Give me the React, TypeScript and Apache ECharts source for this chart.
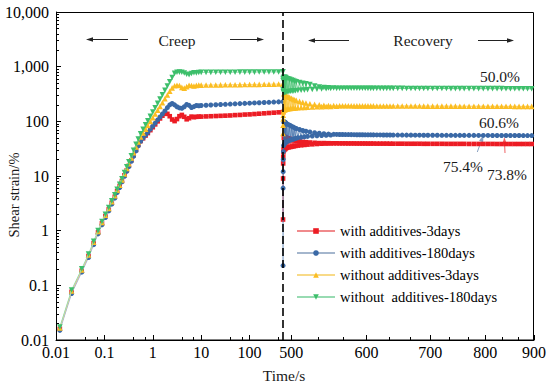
import React, { useEffect, useRef } from 'react';
import * as echarts from 'echarts';

const seriesNames = [
  'with additives-3days',
  'with additives-180days',
  'without additives-3days',
  'without  additives-180days',
];

// creep phase (log time axis, 0.01 .. 490 s)
const creepTime = [
  0.012, 0.021, 0.034, 0.047, 0.06, 0.074, 0.089, 0.105, 0.123, 0.142, 0.164, 0.183, 0.207,
  0.23, 0.26, 0.29, 0.32, 0.36, 0.4, 0.45, 0.5,
  0.56, 0.63, 0.71, 0.79, 0.89, 1.0, 1.12, 1.26, 1.41, 1.58,
  1.78, 2.0, 2.24, 2.51, 2.82, 3.16, 3.55, 3.98, 4.47, 5.01,
  5.62, 6.31, 7.08, 7.94, 8.91, 10,
  12.6, 15.8, 20, 25.1, 31.6, 39.8, 50.1, 63.1, 79.4, 100,
  126, 158, 200, 251, 316, 398, 490,
];

const creepRed = [
  0.016, 0.076, 0.185, 0.344, 0.59, 0.93, 1.36, 1.85, 2.45, 3.24, 4.18, 5.3, 6.56,
  8.1, 10.3, 12.7, 15.4, 19.4, 23.9, 30, 37,
  43.5, 49, 55, 61, 69, 78, 88, 100, 113, 127,
  138, 137, 124, 108, 101, 110, 124, 131, 121, 109,
  114, 122, 119, 121, 122, 122,
  123, 124, 125, 126, 127, 128, 130, 131, 133, 134,
  136, 138, 140, 142, 144, 146, 148,
];
const creepBlue = [
  0.015, 0.071, 0.174, 0.323, 0.555, 0.874, 1.28, 1.74, 2.3, 3.05, 3.93, 4.98, 6.17,
  7.8, 9.9, 12.2, 14.8, 18.6, 23, 28.8, 35.5,
  43, 49.5, 56, 63, 72, 82, 93, 106, 120, 136,
  155, 178, 200, 212, 200, 185, 176, 173, 185, 204,
  196, 179, 186, 195, 193, 195,
  197, 199, 201, 203, 205, 207, 209, 211, 213, 215,
  217, 219, 221, 223, 225, 227, 229,
];
const creepYellow = [
  0.0166, 0.079, 0.192, 0.358, 0.614, 0.967, 1.41, 1.92, 2.55, 3.37, 4.35, 5.51, 6.82,
  8.5, 10.9, 13.7, 16.8, 21.4, 26.6, 33.9, 42,
  51.8, 61, 72, 84, 99, 116, 136, 160, 187, 219,
  259, 304, 355, 410, 448, 458, 452, 418, 405, 432,
  458, 452, 444, 455, 460, 460,
  461, 462, 463, 464, 466, 467, 468, 470, 471, 472,
  474, 475, 476, 478, 479, 481, 482,
];
const creepGreen = [
  0.0173, 0.082, 0.2, 0.372, 0.637, 1.0, 1.47, 2.0, 2.65, 3.5, 4.51, 5.72, 7.08,
  8.9, 11.6, 14.7, 18.2, 23.4, 29.5, 38, 47.6,
  59, 71.5, 86, 102, 123, 148, 177, 213, 255, 305,
  368, 443, 531, 635, 755, 790, 795, 788, 765, 728,
  712, 748, 776, 770, 780, 785,
  786, 787, 788, 789, 790, 791, 792, 793, 794, 795,
  796, 797, 798, 799, 800, 801, 802,
];

// recovery phase (expanded log time axis, 490 .. 900 s)
const recoveryTime = [
  490.05, 490.1, 490.2, 490.3, 490.5, 490.7,
  491, 491.5, 492, 492.5, 493, 493.5, 494,
  495, 496, 497, 498, 499, 500, 501, 502, 503, 504, 505, 506,
  508, 510, 512, 514, 516, 518, 520,
  523, 526, 529, 532, 535, 538, 541, 544, 547, 550,
  554, 558, 562, 566, 570, 574, 578, 582, 586, 590,
  594, 598, 602, 606, 610, 615, 620, 625, 630, 635,
  640, 647, 654, 661, 668, 675, 682, 689, 696, 704,
  712, 720, 728, 736, 744, 752, 760, 769, 778, 787,
  796, 805, 814, 823, 832, 841, 850, 859, 868, 877,
  886, 895,
];

const recoveryRed = [
  1.6, 9, 17, 22, 27, 31,
  50, 30, 52, 31, 51, 32, 50,
  33, 49, 33.5, 48, 34, 47, 34.5, 46, 35, 45, 35.5, 44,
  36, 43, 36.5, 42, 37, 41.5, 37.5,
  41, 38, 40.5, 38.5, 40, 39, 40, 39.3, 39.8, 39.5,
  39.6, 39.6, 39.5, 39.5, 39.5, 39.4, 39.4, 39.4, 39.3, 39.3,
  39.3, 39.3, 39.2, 39.2, 39.2, 39.1, 39.1, 39.1, 39.1, 39.0,
  39.0, 39.0, 39.0, 38.9, 38.9, 38.9, 38.9, 38.8, 38.8, 38.8,
  38.8, 38.8, 38.7, 38.7, 38.7, 38.7, 38.7, 38.6, 38.6, 38.6,
  38.6, 38.6, 38.6, 38.5, 38.5, 38.5, 38.5, 38.5, 38.5, 38.5,
  38.5, 38.5,
];
const recoveryBlue = [
  0.23, 6, 12, 20, 28, 36,
  95, 38, 98, 40, 96, 41, 92,
  43, 88, 44, 85, 45.5, 82, 46.5, 79, 47.5, 76, 48.5, 74,
  50, 71, 51, 68, 52, 66, 53,
  64, 54, 62, 54.5, 60.5, 55, 59.5, 55.5, 58.5, 56,
  57.8, 57.6, 57.5, 57.4, 57.3, 57.2, 57.1, 57.0, 56.9, 56.8,
  56.8, 56.7, 56.6, 56.6, 56.5, 56.4, 56.4, 56.3, 56.2, 56.2,
  56.1, 56.0, 56.0, 55.9, 55.9, 55.8, 55.8, 55.7, 55.7, 55.6,
  55.6, 55.5, 55.5, 55.5, 55.4, 55.4, 55.3, 55.3, 55.3, 55.2,
  55.2, 55.2, 55.1, 55.1, 55.1, 55.0, 55.0, 55.0, 55.0, 54.9,
  54.9, 54.9,
];
const recoveryYellow = [
  60, 85, 110, 130, 150, 165,
  320, 162, 315, 164, 305, 166, 295,
  168, 285, 170, 275, 172, 265, 173, 256, 174, 248, 175, 242,
  177, 232, 179, 224, 180, 217, 182,
  210, 184, 204, 185, 200, 186, 197, 187, 195, 188,
  194, 190, 193, 192.5, 192.4, 192.3, 192.2, 192.1, 192, 191.9,
  191.8, 191.7, 191.6, 191.5, 191.4, 191.3, 191.2, 191.1, 191, 190.9,
  190.8, 190.7, 190.6, 190.5, 190.4, 190.3, 190.2, 190.1, 190, 189.9,
  189.8, 189.7, 189.6, 189.5, 189.4, 189.3, 189.2, 189.1, 189, 188.9,
  188.8, 188.7, 188.6, 188.5, 188.4, 188.3, 188.2, 188.1, 188, 187.9,
  187.8, 187.7,
];
const recoveryGreen = [
  560, 380, 600, 350, 620, 340,
  640, 335, 640, 338, 630, 342, 615,
  346, 600, 350, 585, 354, 570, 357, 555, 360, 540, 363, 528,
  367, 510, 371, 497, 375, 485, 378,
  470, 382, 440, 388, 425, 392, 415, 395, 410, 398,
  406, 401, 404, 403, 403, 403, 403, 402, 402, 402,
  402, 402, 401, 401, 401, 401, 401, 400, 400, 400,
  400, 400, 400, 399, 399, 399, 399, 399, 398, 398,
  398, 398, 398, 397, 397, 397, 397, 397, 397, 396,
  396, 396, 396, 396, 396, 395, 395, 395, 395, 395,
  395, 395,
];

const creepValues = [creepRed, creepBlue, creepYellow, creepGreen];
const recoveryValues = [recoveryRed, recoveryBlue, recoveryYellow, recoveryGreen];

// axis ticks / labels
const yTicks = [0.01, 0.1, 1, 10, 100, 1000, 10000];
const yTickLabels = ['0.01', '0.1', '1', '10', '100', '1,000', '10,000'];
const yMinorTicks: number[] = [];
[0.01, 0.1, 1, 10, 100, 1000].forEach((d) => {
  for (let k = 2; k <= 9; k++) yMinorTicks.push(+(d * k).toPrecision(6));
});
const xLeftTicks = [0.01, 0.1, 1, 10, 100];
const xLeftLabels = ['0.01', '0.1', '1', '10', '100'];
const xLeftMinor = [0.04, 0.07, 0.4, 0.7, 4, 7, 40, 70, 400];
const xRightTicks = [500, 600, 700, 800, 900];
const xRightLabels = ['500', '600', '700', '800', '900'];
const xRightMinor = [533.3, 566.7, 633.3, 666.7, 733.3, 766.7, 833.3, 866.7];

const serif = 'Liberation Serif';

const looks = [
  { symbol: 'rect', size: 4.6, color: '#ec1c24', line: '#f08a8c', rotate: 0 },
  { symbol: 'circle', size: 5, color: '#3a69a6', line: '#a4b6cd', rotate: 0 },
  { symbol: 'triangle', size: 5.6, color: '#fbbd22', line: '#f8da88', rotate: 0 },
  { symbol: 'triangle', size: 5.6, color: '#3dbf6b', line: '#98dbb2', rotate: 180 },
];

const lookup = (ticks: number[], labels: string[]) => (v: number) => {
  const i = ticks.findIndex((t) => Math.abs(t - v) / t < 1e-6);
  return i >= 0 ? labels[i] : '';
};

const labelStyle = { color: '#000', fontFamily: serif, fontSize: 16, lineHeight: 12 };

function buildOption(): any {
  const series: any[] = [];
  looks.forEach((lk, i) => {
    series.push({
      type: 'line',
      name: seriesNames[i],
      xAxisIndex: 0,
      yAxisIndex: 0,
      data: creepTime.map((t, k) => [t, creepValues[i][k]]),
      symbol: lk.symbol,
      symbolSize: lk.size,
      symbolRotate: lk.rotate,
      itemStyle: { color: lk.color },
      lineStyle: { color: lk.line, width: 1 },
      emphasis: { disabled: true },
      z: 2 + i,
      ...(i === 0
        ? {
            markLine: {
              silent: true,
              symbol: ['none', 'none'],
              label: { show: false },
              lineStyle: { color: '#000', type: [8, 4], width: 1.6 },
              data: [{ xAxis: 490 }],
              z: 20,
            },
          }
        : {}),
    });
  });
  looks.forEach((lk, i) => {
    series.push({
      type: 'line',
      name: seriesNames[i],
      xAxisIndex: 2,
      yAxisIndex: 2,
      data: recoveryTime.map((t, k) => [t, recoveryValues[i][k]]),
      symbol: lk.symbol,
      symbolSize: lk.size,
      symbolRotate: lk.rotate,
      itemStyle: { color: lk.color },
      lineStyle: { color: lk.color, width: 1, opacity: 0.75 },
      emphasis: { disabled: true },
      z: 2 + i,
    });
  });

  const arrow = (x1: number, y1: number, x2: number, y2: number, color: string) => {
    const dx = x2 - x1;
    const dy = y2 - y1;
    const len = Math.hypot(dx, dy);
    const ux = dx / len;
    const uy = dy / len;
    const hl = 7;
    const hw = 2.2;
    const bx = x2 - ux * hl;
    const by = y2 - uy * hl;
    return [
      { type: 'line', shape: { x1, y1, x2: bx, y2: by }, style: { stroke: color, lineWidth: 1 } },
      {
        type: 'polygon',
        shape: {
          points: [
            [x2, y2],
            [bx - uy * hw, by + ux * hw],
            [bx + uy * hw, by - ux * hw],
          ],
        },
        style: { fill: color },
      },
    ];
  };

  const text = (t: string, x: number, y: number, size = 15.5, extra: any = {}) => ({
    type: 'text',
    x,
    y,
    ...extra,
    style: {
      text: t,
      fill: '#1a1a1a',
      fontFamily: serif,
      fontSize: size,
      align: 'center',
      verticalAlign: 'middle',
    },
  });

  return {
    animation: false,
    backgroundColor: '#fff',
    grid: [
      { left: 56, top: 12, width: 227, height: 328 },
      { left: 283, top: 12, width: 251, height: 328 },
    ],
    xAxis: [
      {
        gridIndex: 0,
        type: 'log',
        min: 0.01,
        max: 490,
        position: 'bottom',
        axisLine: { show: true, lineStyle: { color: '#000', width: 1 } },
        axisTick: { show: true, inside: true, length: 5, lineStyle: { color: '#000' }, customValues: xLeftTicks },
        axisLabel: { ...labelStyle, margin: 6, customValues: xLeftTicks, formatter: lookup(xLeftTicks, xLeftLabels) },
        splitLine: { show: false },
      },
      {
        gridIndex: 0,
        type: 'log',
        min: 0.01,
        max: 490,
        position: 'bottom',
        axisLine: { show: false },
        axisTick: { show: true, inside: true, length: 3, lineStyle: { color: '#000' }, customValues: xLeftMinor },
        axisLabel: { show: false },
        splitLine: { show: false },
      },
      {
        gridIndex: 1,
        type: 'log',
        min: 490,
        max: 900,
        position: 'bottom',
        axisLine: { show: true, lineStyle: { color: '#000', width: 1 } },
        axisTick: { show: true, inside: true, length: 5, lineStyle: { color: '#000' }, customValues: xRightTicks },
        axisLabel: { ...labelStyle, margin: 6, customValues: xRightTicks, formatter: lookup(xRightTicks, xRightLabels) },
        splitLine: { show: false },
      },
      {
        gridIndex: 1,
        type: 'log',
        min: 490,
        max: 900,
        position: 'bottom',
        axisLine: { show: false },
        axisTick: { show: true, inside: true, length: 3, lineStyle: { color: '#000' }, customValues: xRightMinor },
        axisLabel: { show: false },
        splitLine: { show: false },
      },
    ],
    yAxis: [
      {
        gridIndex: 0,
        type: 'log',
        min: 0.01,
        max: 10000,
        position: 'left',
        axisLine: { show: true, lineStyle: { color: '#000', width: 1 } },
        axisTick: { show: true, inside: true, length: 5, lineStyle: { color: '#000' }, customValues: yTicks },
        axisLabel: { ...labelStyle, margin: 7, customValues: yTicks, formatter: lookup(yTicks, yTickLabels) },
        splitLine: { show: false },
      },
      {
        gridIndex: 0,
        type: 'log',
        min: 0.01,
        max: 10000,
        position: 'left',
        axisLine: { show: false },
        axisTick: { show: true, inside: true, length: 3, lineStyle: { color: '#000' }, customValues: yMinorTicks },
        axisLabel: { show: false },
        splitLine: { show: false },
      },
      {
        gridIndex: 1,
        type: 'log',
        min: 0.01,
        max: 10000,
        show: false,
      },
    ],
    legend: {
      orient: 'vertical',
      left: 296,
      top: 223.5,
      padding: 0,
      itemWidth: 38,
      itemHeight: 7,
      itemGap: 7,
      textStyle: { color: '#000', fontFamily: serif, fontSize: 14.5 },
      data: seriesNames,
    },
    graphic: [
      {
        type: 'rect',
        shape: { x: 56.5, y: 12.5, width: 477, height: 327.5 },
        style: { fill: 'none', stroke: '#000', lineWidth: 1 },
        silent: true,
      },
      text('Creep', 177, 40),
      text('Recovery', 423, 40),
      ...arrow(128, 39.5, 86, 39.5, '#222'),
      ...arrow(230, 39.5, 264, 39.5, '#222'),
      ...arrow(349, 40.5, 308, 40.5, '#222'),
      ...arrow(478, 40.5, 514, 40.5, '#222'),
      text('50.0%', 500, 76),
      text('60.6%', 499, 122),
      text('75.4%', 463, 166),
      text('73.8%', 507, 174),
      ...arrow(477.3, 152, 483.5, 135, '#8aa2c2'),
      ...arrow(505, 153, 504.3, 137, '#f06466'),
      text('Shear strain/%', 14, 195, 14.5, { rotation: Math.PI / 2 }),
      text('Time/s', 284, 375, 15.5),
    ],
    series,
  };
}

export default function App() {
  const ref = useRef<HTMLDivElement>(null);
  useEffect(() => {
    if (!ref.current) return;
    const chart = echarts.init(ref.current, null, { renderer: 'svg' });
    chart.setOption(buildOption());
    return () => chart.dispose();
  }, []);
  return (
    <div
      ref={ref}
      style={{ position: 'absolute', left: 0, top: 0, width: 550, height: 390, background: '#fff' }}
    />
  );
}
